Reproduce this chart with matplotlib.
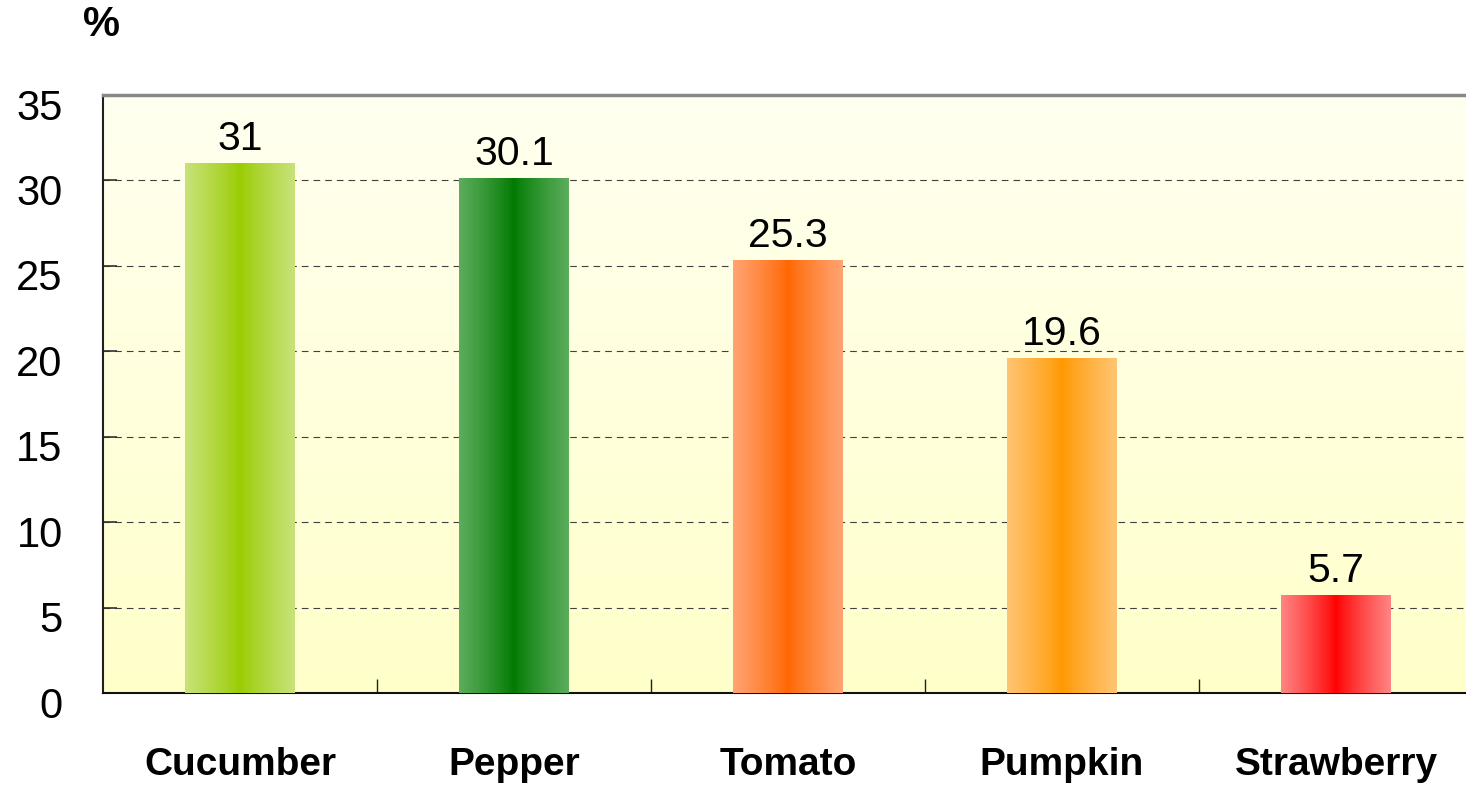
import matplotlib
matplotlib.use("Agg")
import matplotlib.pyplot as plt
import matplotlib.transforms as mtransforms
import numpy as np
from matplotlib.colors import to_rgb

categories = ["Cucumber", "Pepper", "Tomato", "Pumpkin", "Strawberry"]
values = [31, 30.1, 25.3, 19.6, 5.7]
value_labels = ["31", "30.1", "25.3", "19.6", "5.7"]
edge_colors = ["#C8E27A", "#5CAD5C", "#FFA472", "#FFC472", "#FF8585"]
center_colors = ["#99CC00", "#007A00", "#FF6600", "#FF9900", "#FF0000"]
yticks = [0, 5, 10, 15, 20, 25, 30, 35]

plt.rcParams['font.family'] = ['Liberation Sans', 'DejaVu Sans']

fig = plt.figure(figsize=(14.66, 7.85), dpi=100)
ax = fig.add_axes([103/1466, 92/785, 1 - 103/1466, (693-95)/785])

x = np.arange(len(categories))
width = 0.40
bars = ax.bar(x, values, width, color='none', edgecolor='none', zorder=3)

# background gradient
bg_top = np.array(to_rgb("#FFFFF0"))
bg_bot = np.array(to_rgb("#FFFFCA"))
tt = np.linspace(0, 1, 256)[:, None]
bg = (bg_top[None, :] * (1 - tt) + bg_bot[None, :] * tt)[:, None, :]
ax.imshow(bg, extent=[0, 1, 0, 1], transform=ax.transAxes, aspect='auto', zorder=0)

# bar gradients
xs = np.linspace(0, 1, 200)
prof = np.abs(xs - 0.5) * 2
prof = prof ** 0.85
for b, ec, cc in zip(bars, edge_colors, center_colors):
    e = np.array(to_rgb(ec)); c = np.array(to_rgb(cc))
    row = c[None, :] + (e - c)[None, :] * prof[:, None]
    img = row[None, :, :]
    x0, y0 = b.get_x(), b.get_y()
    ax.imshow(img, extent=[x0, x0 + b.get_width(), y0, y0 + b.get_height()],
              aspect='auto', zorder=3, interpolation='bilinear')

for xi, v, lab in zip(x, values, value_labels):
    ax.annotate(lab, (xi, v), xytext=(0, 4), textcoords='offset points',
                ha='center', va='bottom', fontsize=29.5, color='black', zorder=5)

ax.set_xlim(-0.5, -0.5 + 1363/274)
ax.set_ylim(0, 35)
ax.set_yticks(yticks)
ax.set_yticklabels([str(t) for t in yticks])
ax.yaxis.grid(True, linestyle=(0, (6, 4.5)), color='#404040', linewidth=0.8, zorder=1)
ax.set_axisbelow(True)

ax.set_xticks(x)
ax.set_xticklabels(categories, fontsize=28, fontweight='bold')
ax.set_xticks(np.arange(0.5, len(categories) - 0.5, 1), minor=True)
ax.tick_params(axis='x', which='major', length=0, pad=39)
ax.tick_params(axis='x', which='minor', direction='in', length=10, width=1, color='#202020')
ax.tick_params(axis='y', direction='in', length=10, width=1.2, color='#303030',
               labelsize=30, pad=29)

offset = mtransforms.ScaledTranslation(0, -9/100, fig.dpi_scale_trans)
for lbl in ax.get_yticklabels():
    lbl.set_transform(lbl.get_transform() + offset)

ax.spines['left'].set_color('#202020')
ax.spines['left'].set_linewidth(1.5)
ax.spines['bottom'].set_color('#101010')
ax.spines['bottom'].set_linewidth(1.5)
ax.spines['top'].set_color('#888888')
ax.spines['top'].set_linewidth(2.5)
ax.spines['right'].set_visible(False)

fig.text(101/1466, 1 - 25/785, "%", ha='center', va='center', fontsize=30, fontweight='bold')

fig.savefig("out.png", dpi=100)
